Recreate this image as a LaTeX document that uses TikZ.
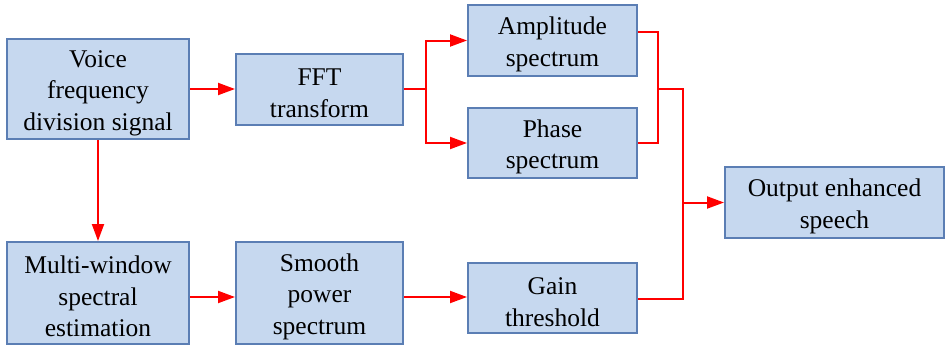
\documentclass[tikz,border=0pt]{standalone}
\usepackage{fontspec}
\setmainfont{Liberation Serif}
\usetikzlibrary{arrows.meta,calc}
\definecolor{boxfill}{HTML}{C6D8EF}
\definecolor{boxdraw}{HTML}{5B7EB4}
\newcommand\tpad{\rule{0pt}{25pt}}
\begin{document}
\begin{tikzpicture}[x=1pt,y=-1pt,
  box/.style={draw=boxdraw,fill=boxfill,line width=2pt,align=center,inner sep=0pt,
    font=\rmfamily\fontsize{25.5}{31.5}\selectfont},
  arr/.style={draw=red,line width=2pt,-{Triangle[length=17pt,width=12pt]}},
  ln/.style={draw=red,line width=1.6pt}]
\useasboundingbox (0,0) rectangle (945,359);
\node[box,minimum width=182pt,minimum height=100pt] (voice) at (98,89) {\tpad Voice\\frequency\\division signal};
\node[box,minimum width=182pt,minimum height=102pt] (multi) at (98,293) {\tpad Multi-window\\spectral\\estimation};
\node[box,minimum width=167pt,minimum height=71pt] (fft) at (319.5,89) {\tpad FFT\\transform};
\node[box,minimum width=167pt,minimum height=102pt] (smooth) at (319.5,293) {\tpad Smooth\\power\\spectrum};
\node[box,minimum width=169pt,minimum height=71pt] (amp) at (552.5,40.5) {\tpad Amplitude\\spectrum};
\node[box,minimum width=169pt,minimum height=70pt] (phase) at (552.5,143) {\tpad Phase\\spectrum};
\node[box,minimum width=169pt,minimum height=70pt] (gain) at (552.5,298) {\tpad Gain\\threshold};
\node[box,minimum width=219pt,minimum height=71pt] (out) at (834.5,202.5) {\tpad Output enhanced\\speech};
\coordinate (j0) at (426,89);
\coordinate (j1) at (658,89);
\coordinate (j2) at (683,202.5);
\draw[arr] (voice.east) -- (fft.west);
\draw[arr] (voice.south) -- (multi.north);
\draw[arr] ($(multi.east)+(0,4)$) -- ($(smooth.west)+(0,4)$);
\draw[arr] ($(smooth.east)+(0,4)$) -- ($(gain.west)+(0,-1)$);
\draw[ln,line width=2pt] (fft.east) -- (j0);
\draw[arr] (j0) |- (amp.west);
\draw[arr] (j0) |- (phase.west);
\draw[ln] ($(amp.east)+(0,-8.5)$) -| (j1) |- (phase.east);
\draw[ln] (j1) -| (j2) |- ($(gain.east)+(0,1)$);
\draw[arr] (j2) -- (out.west);
\end{tikzpicture}
\end{document}
